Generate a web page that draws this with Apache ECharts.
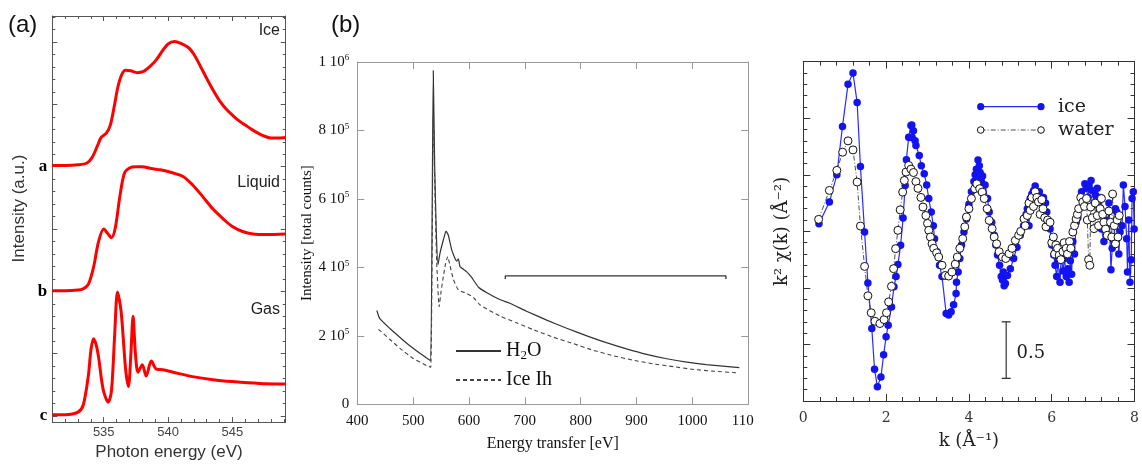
<!DOCTYPE html>
<html><head><meta charset="utf-8">
<script src="https://cdn.jsdelivr.net/npm/echarts@6/dist/echarts.min.js"></script>
<style>html,body{margin:0;padding:0;background:#fff}#c{width:1142px;height:466px}</style>
</head><body><div id="c"></div>
<script>
// ---------- Panel (a): X-ray absorption, Photon energy (eV) vs offset intensity ----------
const xasIceE = [531.0, 532.0, 533.0, 533.7, 534.1, 534.5, 534.8, 535.2, 535.5, 535.8, 536.1, 536.4, 536.7, 537.1, 537.6, 538.1, 538.6, 539.1, 539.6, 540.0, 540.5, 541.0, 541.6, 542.0, 542.5, 543.0, 543.5, 544.0, 544.5, 545.0, 545.5, 546.0, 546.5, 547.0, 547.5, 548.0, 548.5, 549.15];
const xasIceI = [4.02, 4.02, 4.03, 4.06, 4.15, 4.33, 4.47, 4.54, 4.66, 4.95, 5.28, 5.48, 5.55, 5.54, 5.51, 5.53, 5.61, 5.72, 5.87, 5.97, 6.01, 5.98, 5.91, 5.81, 5.62, 5.42, 5.23, 5.06, 4.93, 4.83, 4.74, 4.67, 4.60, 4.54, 4.49, 4.46, 4.46, 4.47];
const xasLiqE = [531.0, 532.0, 533.0, 533.4, 533.8, 534.2, 534.6, 535.0, 535.3, 535.6, 535.9, 536.25, 536.6, 537.0, 537.5, 538.0, 538.7, 539.4, 540.4, 541.2, 541.9, 542.7, 543.5, 544.3, 545.0, 545.8, 546.6, 547.6, 549.15];
const xasLiqI = [2.01, 2.01, 2.02, 2.04, 2.11, 2.38, 2.80, 3.00, 2.93, 2.86, 3.02, 3.52, 3.89, 3.98, 4.0, 4.0, 3.97, 3.95, 3.90, 3.84, 3.71, 3.52, 3.32, 3.16, 3.04, 2.96, 2.92, 2.91, 2.92];
const xasGasE = [531.0, 532.0, 533.0, 533.4, 533.8, 534.0, 534.2, 534.4, 534.6, 534.95, 535.35, 535.6, 535.85, 536.07, 536.35, 536.7, 536.92, 537.1, 537.28, 537.46, 537.67, 538.0, 538.3, 538.7, 539.1, 539.6, 540.4, 541.9, 543.5, 545.0, 547.1, 549.15];
const xasGasI = [0.02, 0.02, 0.06, 0.17, 0.64, 1.05, 1.24, 1.15, 0.94, 0.43, 0.22, 0.40, 1.30, 1.99, 1.68, 0.75, 0.47, 0.95, 1.60, 1.01, 0.70, 0.82, 0.64, 0.88, 0.75, 0.74, 0.70, 0.63, 0.58, 0.55, 0.52, 0.51];
const xasBaseLabels = {0: 'c', 2: 'b', 4: 'a'};
const xasCurveNames = ['Ice', 'Liquid', 'Gas'];

// ---------- Panel (b): X-ray Raman, Energy transfer [eV] vs Intensity [total counts] ----------
const h2oE = [435, 440, 458, 476, 494, 512, 526, 531.5, 536, 538.5, 541.5, 544.5, 548, 554, 558.8, 563, 569, 575, 578, 581, 584, 596, 604, 617, 632, 655, 673, 703, 739, 775, 811, 846, 882, 918, 954, 990, 1025, 1084];
const h2oI = [274e3, 251e3, 222e3, 196e3, 171e3, 149e3, 133e3, 127e3, 975e3, 700e3, 500e3, 408e3, 441e3, 480e3, 506e3, 494e3, 451e3, 426e3, 418e3, 425e3, 402e3, 387e3, 372e3, 342e3, 326e3, 306e3, 295e3, 272e3, 246e3, 222e3, 200e3, 180e3, 162e3, 146e3, 133e3, 123e3, 116e3, 107e3];
const iceIhE = [438, 458, 476, 500, 524, 531.5, 536, 539, 542, 546.5, 550, 554, 558, 561.8, 566, 572, 581, 596, 608, 620, 655, 685, 715, 751, 787, 822, 858, 894, 930, 966, 1001, 1037, 1079];
const iceIhI = [219e3, 190e3, 164e3, 134e3, 113e3, 108e3, 840e3, 620e3, 420e3, 285e3, 330e3, 373e3, 410e3, 432e3, 405e3, 365e3, 334e3, 324e3, 312e3, 290e3, 258e3, 238e3, 218e3, 196e3, 177e3, 158e3, 142e3, 129e3, 118e3, 110e3, 102e3, 97e3, 92e3];
const bracketE = [665, 665, 1060, 1060];
const bracketI = [366e3, 375e3, 375e3, 366e3];
const ramanTickLabels = {0: '0', 200000: '2 10{s|5}', 400000: '4 10{s|5}', 600000: '6 10{s|5}', 800000: '8 10{s|5}', 1000000: '1 10{s|6}'};

// ---------- Panel (c): EXAFS, k (1/Å) vs k^2 chi(k) ----------
const exIceK = [0.378, 0.63, 0.81, 0.946, 1.08, 1.20, 1.30, 1.38, 1.48, 1.56, 1.655, 1.72, 1.79, 1.875, 1.94, 2.0, 2.05, 2.13, 2.19, 2.24, 2.285, 2.35, 2.41, 2.46, 2.49, 2.545, 2.57, 2.60, 2.62, 2.63, 2.66, 2.70, 2.72, 2.80, 2.85, 2.92, 2.98, 3.03, 3.09, 3.14, 3.17, 3.23, 3.29, 3.35, 3.45, 3.51, 3.57, 3.63, 3.69, 3.70, 3.74, 3.78, 3.82, 3.88, 3.94, 4.0, 4.06, 4.12, 4.15, 4.18, 4.20, 4.22, 4.25, 4.27, 4.30, 4.33, 4.39, 4.45, 4.49, 4.55, 4.61, 4.65, 4.69, 4.74, 4.78, 4.81, 4.83, 4.85, 4.88, 4.93, 5.0, 5.08, 5.16, 5.24, 5.32, 5.33, 5.38, 5.41, 5.45, 5.48, 5.52, 5.56, 5.60, 5.66, 5.70, 5.74, 5.80, 5.85, 5.88, 5.96, 6.0, 6.05, 6.08, 6.12, 6.15, 6.20, 6.23, 6.27, 6.31, 6.35, 6.39, 6.42, 6.45, 6.48, 6.51, 6.55, 6.59, 6.63, 6.67, 6.72, 6.75, 6.80, 6.83, 6.88, 6.90, 6.95, 6.98, 7.02, 7.06, 7.10, 7.14, 7.18, 7.20, 7.26, 7.30, 7.34, 7.38, 7.43, 7.46, 7.50, 7.54, 7.57, 7.62, 7.65, 7.70, 7.73, 7.77, 7.81, 7.83, 7.86, 7.89, 7.92, 7.94, 7.97, 7.99];
const exIceY = [0.068, 0.259, 0.50, 0.928, 1.30, 1.40, 1.14, 0.574, -0.006, -0.456, -0.86, -1.22, -1.375, -1.287, -1.09, -0.933, -0.83, -0.668, -0.49, -0.40, -0.294, -0.124, 0.118, 0.406, 0.633, 0.833, 0.83, 0.936, 0.94, 0.83, 0.89, 0.80, 0.76, 0.67, 0.58, 0.51, 0.41, 0.29, 0.17, 0.05, -0.065, -0.18, -0.30, -0.40, -0.727, -0.74, -0.71, -0.65, -0.55, -0.45, -0.36, -0.24, -0.12, -0.006, 0.11, 0.24, 0.35, 0.44, 0.50, 0.55, 0.46, 0.63, 0.58, 0.52, 0.44, 0.49, 0.41, 0.29, 0.17, 0.08, -0.035, -0.12, -0.21, -0.30, -0.40, -0.43, -0.36, -0.48, -0.46, -0.39, -0.33, -0.24, -0.14, -0.035, 0.05, 0.11, 0.15, 0.20, 0.05, 0.29, 0.33, 0.36, 0.40, 0.32, 0.35, 0.26, 0.30, 0.25, 0.17, 0.02, -0.12, -0.21, -0.30, -0.40, -0.26, -0.45, -0.21, -0.35, -0.24, -0.40, -0.33, -0.45, -0.26, -0.38, -0.09, -0.20, 0.08, 0.12, 0.20, 0.35, 0.29, 0.42, 0.38, 0.30, 0.41, 0.45, 0.36, 0.25, 0.32, 0.38, 0.17, 0.30, 0.02, -0.09, 0.10, -0.035, 0.25, -0.34, -0.15, -0.09, 0.20, 0.17, -0.20, -0.006, 0.05, 0.41, 0.22, -0.065, -0.36, 0.10, -0.45, -0.25, 0.29, 0.35, 0.02];
const exWatK = [0.37, 0.63, 0.81, 0.95, 1.08, 1.20, 1.30, 1.38, 1.48, 1.56, 1.64, 1.73, 1.85, 1.95, 2.01, 2.06, 2.13, 2.18, 2.23, 2.285, 2.34, 2.40, 2.44, 2.48, 2.545, 2.60, 2.66, 2.72, 2.77, 2.84, 2.89, 2.96, 3.0, 3.03, 3.07, 3.11, 3.15, 3.22, 3.27, 3.35, 3.43, 3.51, 3.59, 3.67, 3.72, 3.78, 3.85, 3.90, 3.94, 4.0, 4.06, 4.14, 4.19, 4.26, 4.32, 4.37, 4.44, 4.49, 4.56, 4.61, 4.67, 4.73, 4.81, 4.89, 4.97, 5.04, 5.12, 5.20, 5.25, 5.33, 5.36, 5.41, 5.45, 5.48, 5.52, 5.56, 5.60, 5.64, 5.68, 5.72, 5.76, 5.79, 5.83, 5.86, 5.90, 5.96, 6.0, 6.04, 6.07, 6.10, 6.14, 6.18, 6.22, 6.27, 6.30, 6.35, 6.38, 6.43, 6.46, 6.51, 6.55, 6.59, 6.62, 6.65, 6.70, 6.75, 6.79, 6.84, 6.86, 6.89, 6.92, 6.94, 6.98, 7.02, 7.05, 7.10, 7.13, 7.17, 7.20, 7.23, 7.26, 7.30, 7.34, 7.38, 7.42, 7.45, 7.47, 7.51, 7.54, 7.58, 7.60, 7.63];
const exWatY = [0.106, 0.362, 0.539, 0.70, 0.80, 0.72, 0.436, 0.047, -0.31, -0.57, -0.72, -0.795, -0.815, -0.78, -0.72, -0.624, -0.486, -0.33, -0.153, 0.009, 0.19, 0.347, 0.45, 0.524, 0.583, 0.55, 0.52, 0.44, 0.38, 0.30, 0.215, 0.14, 0.07, 0.009, -0.05, -0.11, -0.15, -0.19, -0.227, -0.30, -0.39, -0.395, -0.36, -0.29, -0.227, -0.15, -0.065, 0.04, 0.127, 0.20, 0.29, 0.377, 0.42, 0.377, 0.347, 0.29, 0.20, 0.097, 0.024, -0.05, -0.11, -0.18, -0.227, -0.24, -0.197, -0.15, -0.08, -0.035, 0.0, 0.11, 0.05, 0.14, 0.25, 0.185, 0.30, 0.22, 0.35, 0.30, 0.26, 0.15, 0.28, 0.20, 0.12, 0.04, 0.10, 0.08, -0.10, -0.05, -0.20, -0.12, -0.15, -0.21, -0.25, -0.18, -0.10, -0.15, -0.20, -0.09, -0.15, -0.006, 0.05, 0.11, 0.15, 0.20, 0.30, 0.26, 0.22, 0.29, 0.10, -0.25, -0.30, 0.215, 0.12, 0.024, 0.25, 0.14, 0.05, 0.20, 0.29, 0.15, 0.08, 0.02, -0.035, 0.18, 0.08, -0.05, 0.33, 0.05, -0.11, 0.10, -0.05, 0.14];
const scaleBarK = [4.9, 4.9];
const scaleBarY = [-1.3, -0.8];
const exLegendNames = ['ice', 'water'];

const zip = (a, b) => a.map((v, i) => [v, b[i]]);

// ---------- layout / styles ----------
const SANS = 'Liberation Sans', SERIF = 'Liberation Serif', DSERIF = 'DejaVu Serif';
const G = [
  {left: 52.3, top: 16, width: 233.4, height: 415},
  {left: 357.3, top: 62, width: 391, height: 342.3},
  {left: 803.3, top: 61.7, width: 338.4, height: 339.3}
];

function boxAxis(base, grid, pos, col, tickLen, minorLen, showLabel, extra) {
  return Object.assign({
    type: 'value', gridIndex: grid, position: pos,
    splitLine: {show: false},
    axisLine: {show: true, onZero: false, lineStyle: {color: col, width: 1}},
    axisTick: {show: true, inside: true, length: tickLen, lineStyle: {color: col, width: 1}},
    minorTick: {show: minorLen > 0, splitNumber: 5, length: minorLen, lineStyle: {color: col, width: 1}},
    axisLabel: {show: showLabel}
  }, base, extra || {});
}

const ax0 = {min: 531, max: 549.15, splitNumber: 4};
const ay0 = {min: -0.1, max: 6.42, splitNumber: 6};
const ax1 = {min: 400, max: 1100, interval: 100};
const ay1 = {min: 0, max: 1000000, interval: 200000};
const ax2 = {min: 0, max: 8, interval: 2};
const ay2 = {min: -1.5, max: 1.5, interval: 0.5};

const option = {
  animation: false,
  backgroundColor: '#fff',
  grid: G.map(g => Object.assign({containLabel: false}, g)),
  xAxis: [
    boxAxis(ax0, 0, 'bottom', '#555', 5, 3, true, {
      axisLabel: {show: true, showMinLabel: false, showMaxLabel: false, fontFamily: SANS, fontSize: 13, color: '#444', margin: 4},
      name: 'Photon energy (eV)', nameLocation: 'middle', nameGap: 17,
      nameTextStyle: {fontFamily: SANS, fontSize: 17, color: '#333'}
    }),
    boxAxis(ax0, 0, 'top', '#555', 5, 3, false),
    boxAxis(ax1, 1, 'bottom', '#999', 7, 0, true, {
      axisLabel: {show: true, fontFamily: SERIF, fontSize: 15, color: '#111', margin: 9,
        formatter: v => v === 1100 ? '{c|110}' : String(v),
        rich: {c: {fontFamily: SERIF, fontSize: 15, color: '#111', padding: [0, 11, 0, 0]}}},
      name: 'Energy transfer [eV]', nameLocation: 'middle', nameGap: 31,
      nameTextStyle: {fontFamily: SERIF, fontSize: 16, color: '#111'}
    }),
    boxAxis(ax1, 1, 'top', '#999', 7, 0, false),
    boxAxis(ax2, 2, 'bottom', '#333', 7, 4, true, {
      axisLabel: {show: true, fontFamily: DSERIF, fontSize: 14, color: '#333', margin: 10},
      name: 'k (Å⁻¹)', nameLocation: 'middle', nameGap: 31,
      nameTextStyle: {fontFamily: DSERIF, fontSize: 18, color: '#222'}
    }),
    boxAxis(ax2, 2, 'top', '#333', 7, 4, false)
  ],
  yAxis: [
    boxAxis(ay0, 0, 'left', '#555', 5, 3, true, {
      axisLabel: {show: true, fontFamily: SERIF, fontWeight: 'bold', fontSize: 17, color: '#000', margin: 5,
        formatter: v => xasBaseLabels[Math.round(v * 1000) / 1000] || ''},
      name: 'Intensity (a.u.)', nameLocation: 'middle', nameGap: 24,
      nameTextStyle: {fontFamily: SANS, fontSize: 17, color: '#333', padding: [0, 0, 0, 21]}
    }),
    boxAxis(ay0, 0, 'right', '#555', 5, 3, false),
    boxAxis(ay1, 1, 'left', '#999', 7, 0, true, {
      axisLabel: {show: true, fontFamily: SERIF, fontSize: 15, color: '#111', margin: 8,
        formatter: v => ramanTickLabels[v] || '',
        rich: {s: {fontFamily: SERIF, fontSize: 9, color: '#111', verticalAlign: 'top', padding: [0, 0, 8, 0]}}},
      name: 'Intensity [total counts]', nameLocation: 'middle', nameGap: 41,
      nameTextStyle: {fontFamily: SERIF, fontSize: 15, color: '#111'}
    }),
    boxAxis(ay1, 1, 'right', '#999', 7, 0, false),
    boxAxis(ay2, 2, 'left', '#333', 7, 4, false, {
      name: 'k² χ(k) (Å⁻²)', nameLocation: 'middle', nameGap: 12,
      nameTextStyle: {fontFamily: DSERIF, fontSize: 18, color: '#222'}
    }),
    boxAxis(ay2, 2, 'right', '#333', 7, 4, false)
  ],
  legend: [{
    show: true, data: ['H2O', 'Ice Ih'], orient: 'vertical', left: 455, top: 339,
    itemWidth: 45, itemHeight: 2, itemGap: 5, selectedMode: false, padding: 0,
    itemStyle: {opacity: 0},
    formatter: n => n === 'H2O' ? 'H{sub|2}O' : n,
    textStyle: {fontFamily: SERIF, fontSize: 20, color: '#111', lineHeight: 24,
      rich: {sub: {fontFamily: SERIF, fontSize: 13, color: '#111', padding: [10, 0, 0, 0]}}}
  }],
  series: [
    {name: xasCurveNames[0], type: 'line', xAxisIndex: 0, yAxisIndex: 0, data: zip(xasIceE, xasIceI), symbol: 'none', smooth: 0.3, lineStyle: {color: '#ff0000', width: 3}, silent: true},
    {name: xasCurveNames[1], type: 'line', xAxisIndex: 0, yAxisIndex: 0, data: zip(xasLiqE, xasLiqI), symbol: 'none', smooth: 0.3, lineStyle: {color: '#ff0000', width: 3}, silent: true},
    {name: xasCurveNames[2], type: 'line', xAxisIndex: 0, yAxisIndex: 0, data: zip(xasGasE, xasGasI), symbol: 'none', smooth: 0.3, lineStyle: {color: '#ff0000', width: 3}, silent: true},
    {name: 'H2O', type: 'line', xAxisIndex: 2, yAxisIndex: 2, data: zip(h2oE, h2oI), symbol: 'none', smooth: 0.15, color: '#333', lineStyle: {color: '#333', width: 1.2}, silent: true},
    {name: 'Ice Ih', type: 'line', xAxisIndex: 2, yAxisIndex: 2, data: zip(iceIhE, iceIhI), symbol: 'none', smooth: 0.15, color: '#444', lineStyle: {color: '#444', width: 1.1, type: [4, 3]}, silent: true},
    {name: 'bracket', type: 'line', xAxisIndex: 2, yAxisIndex: 2, data: zip(bracketE, bracketI), symbol: 'none', lineStyle: {color: '#333', width: 1.3}, silent: true},
    {name: exLegendNames[0], type: 'line', xAxisIndex: 4, yAxisIndex: 4, data: zip(exIceK, exIceY), symbol: 'circle', symbolSize: 7.5, showAllSymbol: true,
      itemStyle: {color: '#1212f2'}, lineStyle: {color: '#2a2aff', width: 1.2}, silent: true},
    {name: exLegendNames[1], type: 'line', xAxisIndex: 4, yAxisIndex: 4, data: zip(exWatK, exWatY), symbol: 'circle', symbolSize: 8, showAllSymbol: true,
      itemStyle: {color: '#fff', borderColor: '#111', borderWidth: 1}, lineStyle: {color: '#222', width: 0.8, type: [5, 2, 1, 2]}, silent: true},
    {name: 'scale', type: 'line', xAxisIndex: 4, yAxisIndex: 4, data: zip(scaleBarK, scaleBarY), symbol: 'rect', symbolSize: [9, 1.3], showAllSymbol: true,
      itemStyle: {color: '#333'}, lineStyle: {color: '#333', width: 1.2}, silent: true}
  ],
  graphic: [
    {type: 'text', style: {text: '(a)', x: 8, y: 25, textVerticalAlign: 'middle', font: '24px "Liberation Sans"', fill: '#111'}},
    {type: 'text', style: {text: '(b)', x: 331, y: 25, textVerticalAlign: 'middle', font: '24px "Liberation Sans"', fill: '#111'}},
    {type: 'text', style: {text: xasCurveNames[0], x: 280, y: 31, textAlign: 'right', textVerticalAlign: 'middle', font: '16px "Liberation Sans"', fill: '#222'}},
    {type: 'text', style: {text: xasCurveNames[1], x: 280, y: 183, textAlign: 'right', textVerticalAlign: 'middle', font: '16px "Liberation Sans"', fill: '#222'}},
    {type: 'text', style: {text: xasCurveNames[2], x: 280, y: 310, textAlign: 'right', textVerticalAlign: 'middle', font: '16px "Liberation Sans"', fill: '#222'}},
    {type: 'line', shape: {x1: 980.7, y1: 106.7, x2: 1041, y2: 106.7}, style: {stroke: '#2a2aff', lineWidth: 1.2}},
    {type: 'circle', shape: {cx: 980.7, cy: 106.7, r: 3.6}, style: {fill: '#1212f2'}},
    {type: 'circle', shape: {cx: 1041, cy: 106.7, r: 3.6}, style: {fill: '#1212f2'}},
    {type: 'text', style: {text: exLegendNames[0], x: 1058, y: 107, textVerticalAlign: 'middle', font: '19px "DejaVu Serif"', fill: '#222'}},
    {type: 'line', shape: {x1: 980.7, y1: 130, x2: 1041, y2: 130}, style: {stroke: '#222', lineWidth: 0.8, lineDash: [5, 2, 1, 2]}},
    {type: 'circle', shape: {cx: 980.7, cy: 130, r: 3.3}, style: {fill: '#fff', stroke: '#111', lineWidth: 1}},
    {type: 'circle', shape: {cx: 1041, cy: 130, r: 3.3}, style: {fill: '#fff', stroke: '#111', lineWidth: 1}},
    {type: 'text', style: {text: exLegendNames[1], x: 1058, y: 130, textVerticalAlign: 'middle', font: '19px "DejaVu Serif"', fill: '#222'}},
    {type: 'text', style: {text: '0.5', x: 1016.5, y: 353, textVerticalAlign: 'middle', font: '18px "DejaVu Serif"', fill: '#222'}}
  ]
};
const chart = echarts.init(document.getElementById('c'), null, {renderer: 'canvas'});
chart.setOption(option);
</script></body></html>
